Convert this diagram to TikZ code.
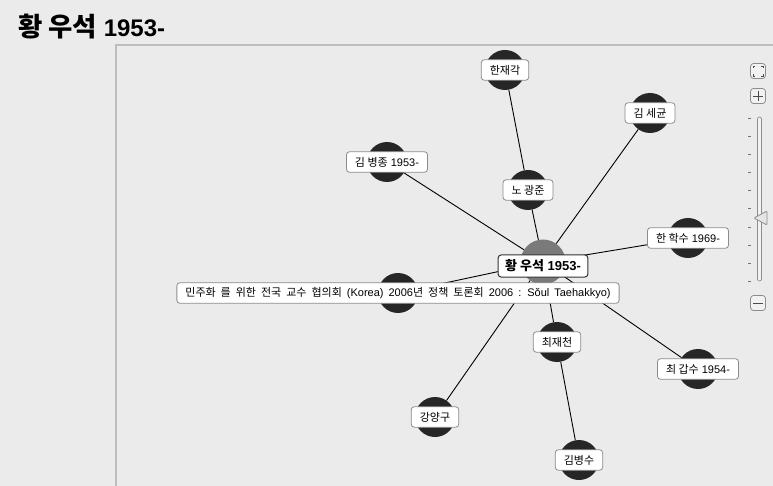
\documentclass[tikz,border=0pt]{standalone}
\usepackage{fontspec}
\setmainfont{Liberation Sans}
\newfontfamily\kr{Noto Sans CJK KR}
\newfontfamily\krbig[Scale=1.1]{Noto Sans CJK KR}
\usetikzlibrary{positioning}
\definecolor{panel}{HTML}{EBEBEB}
\definecolor{frameline}{HTML}{BDBDBD}
\definecolor{dot}{HTML}{262626}
\definecolor{hubdot}{HTML}{7A7A7A}
\definecolor{tagline}{HTML}{8C8C8C}
\tikzstyle{frame} = [draw=frameline, line width=2.5pt]
\tikzstyle{person} = [circle, fill=dot, minimum size=40pt, inner sep=0]
\tikzstyle{hub} = [circle, fill=hubdot, minimum size=45pt, inner sep=0]
\tikzstyle{link} = [draw=black, line width=0.9pt]
\tikzstyle{tag} = [draw=tagline, fill=white, rounded corners=3pt, line width=0.8pt,
                   font=\fontsize{11}{13}\selectfont, inner xsep=8.5pt, inner ysep=0pt,
                   minimum height=20.5pt]
\tikzstyle{button} = [draw=tagline, fill=white!95!black, rounded corners=3pt, line width=0.8pt,
                      minimum size=15pt, inner sep=0]

\begin{document}
\begin{tikzpicture}[x=1pt, y=-1pt]
	\path [use as bounding box, fill=panel] (0,0) rectangle (773,486);
	\node (Title) [anchor=base west, inner sep=0, font=\bfseries\fontsize{24}{28}\selectfont] at (18,37) {{\krbig 황 우석} 1953-};
	\draw [frame] (116,486) -- (116,45) -- (773,45);

	% the circles
	\node (Hub) [hub] at (543,262) {};
	\node (HanJaegak) [person] at (505,70) {};
	\node (KimSegyun) [person] at (650,113) {};
	\node (KimByeongjong) [person] at (387,162) {};
	\node (NoGwangjun) [person] at (528,190) {};
	\node (HanHaksu) [person] at (688,238) {};
	\node (Forum) [person] at (398,293) {};
	\node (ChoeJaecheon) [person] at (557,342) {};
	\node (ChoeGapsu) [person] at (698,369) {};
	\node (GangYanggu) [person] at (435,417) {};
	\node (KimByeongsu) [person] at (579,460) {};

	% the links
	\draw [link] (Hub) -- (KimSegyun);
	\draw [link] (Hub) -- (KimByeongjong);
	\draw [link] (Hub) -- (NoGwangjun);
	\draw [link] (NoGwangjun) -- (HanJaegak);
	\draw [link] (Hub) -- (HanHaksu);
	\draw [link] (Hub) -- (Forum);
	\draw [link] (Hub) -- (ChoeJaecheon);
	\draw [link] (ChoeJaecheon) -- (KimByeongsu);
	\draw [link] (Hub) -- (ChoeGapsu);
	\draw [link] (Hub) -- (GangYanggu);

	% the labels
	\node (HanJaegakTag) [tag] at (HanJaegak) {\kr 한재각};
	\node (KimSegyunTag) [tag] at (KimSegyun) {\kr 김 세균};
	\node (KimByeongjongTag) [tag] at (KimByeongjong) {{\kr 김 병종} 1953-};
	\node (NoGwangjunTag) [tag] at (NoGwangjun) {\kr 노 광준};
	\node (HanHaksuTag) [tag] at (HanHaksu) {{\kr 한 학수} 1969-};
	\node (ForumTag) [tag] at (Forum) {\spaceskip=5pt {\kr\spaceskip=5pt 민주화 를 위한 전국 교수 협의회} (Korea) 2006{\kr\spaceskip=5pt 년 정책 토론회} 2006 : Sŏul Taehakkyo)};
	\node (ChoeJaecheonTag) [tag] at (ChoeJaecheon) {\kr 최재천};
	\node (ChoeGapsuTag) [tag] at (ChoeGapsu) {{\kr 최 갑수} 1954-};
	\node (GangYangguTag) [tag] at (GangYanggu) {\kr 강양구};
	\node (KimByeongsuTag) [tag] at (KimByeongsu) {\kr 김병수};
	\node (HubTag) [tag, line width=1pt, draw=black!80, minimum height=22pt, inner xsep=7pt,
	                font=\bfseries\fontsize{13}{15}\selectfont] at (543,266) {{\kr 황 우석} 1953-};

	% zoom controls
	\node (Fit) [button] at (758,71) {};
	\draw [black!70, line width=0.8pt] (753,68) -- (753,66) -- (755,66) (761,66) -- (763,66) -- (763,68)
	      (753,74) -- (753,76) -- (755,76) (761,76) -- (763,76) -- (763,74);
	\node (ZoomIn) [button] at (758,96) {};
	\draw [black!70, line width=0.9pt] (753,96) -- (763,96) (758,91) -- (758,101);
	\draw [draw=tagline, fill=white!95!black, rounded corners=2pt, line width=0.7pt] (757.5,117) rectangle (761.5,281);
	\foreach \y in {118,136,154,172,190,208,227,245,263,281}
		\draw [black!55, line width=0.8pt] (748,\y) -- (751,\y);
	\draw [draw=tagline, fill=white!90!black, line width=0.8pt, rounded corners=1pt] (754,218) -- (767,211) -- (767,225) -- cycle;
	\node (ZoomOut) [button] at (758,303) {};
	\draw [black!70, line width=0.9pt] (753,303) -- (763,303);
\end{tikzpicture}
\end{document}
